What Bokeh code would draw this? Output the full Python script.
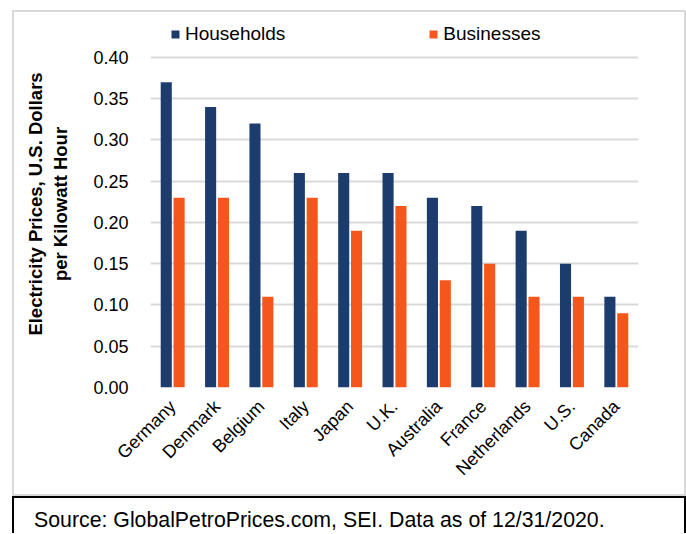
from bokeh.plotting import figure
from bokeh.models import Legend, LegendItem, Div, FixedTicker, NumeralTickFormatter
from bokeh.layouts import column
from bokeh.transform import dodge
from bokeh.embed import file_html
from bokeh.resources import INLINE
from math import pi

countries = ["Germany", "Denmark", "Belgium", "Italy", "Japan", "U.K.",
             "Australia", "France", "Netherlands", "U.S.", "Canada"]
households = [0.37, 0.34, 0.32, 0.26, 0.26, 0.26, 0.23, 0.22, 0.19, 0.15, 0.11]
businesses = [0.23, 0.23, 0.11, 0.23, 0.19, 0.22, 0.13, 0.15, 0.11, 0.11, 0.09]
y_ticks = [0.0, 0.05, 0.10, 0.15, 0.20, 0.25, 0.30, 0.35, 0.40]

NAVY = "#1B3C6D"
ORANGE = "#F4561C"
GRID = "#D9D9D9"
FONT = "Liberation Sans"

data = dict(country=countries, households=households, businesses=businesses)

# the frame reaches above the 0.40 line to hold the legend
p = figure(x_range=countries, y_range=(0, 0.4448), width=670, height=482,
           output_backend="svg", toolbar_location=None,
           min_border_left=136, min_border_right=46,
           min_border_top=8, min_border_bottom=107)

r1 = p.vbar(x=dodge("country", -0.145, range=p.x_range), top="households",
            width=0.25, source=data, fill_color=NAVY, line_color=None)
r2 = p.vbar(x=dodge("country", 0.145, range=p.x_range), top="businesses",
            width=0.25, source=data, fill_color=ORANGE, line_color=None)

p.outline_line_color = None
p.xgrid.grid_line_color = None
p.ygrid.grid_line_color = GRID
p.ygrid.grid_line_width = 2
p.ygrid.ticker = FixedTicker(ticks=y_ticks)

p.yaxis.ticker = FixedTicker(ticks=y_ticks)
p.yaxis.formatter = NumeralTickFormatter(format="0.00")
p.yaxis.axis_line_color = None
p.yaxis.major_tick_line_color = None
p.yaxis.minor_tick_line_color = None
p.yaxis.major_label_text_font = FONT
p.yaxis.major_label_text_font_size = "18px"
p.yaxis.major_label_text_color = "#000000"
p.yaxis.major_label_standoff = 16
p.yaxis.axis_label = "Electricity Prices, U.S. Dollars\nper Kilowatt Hour"
p.yaxis.axis_label_text_font = FONT
p.yaxis.axis_label_text_font_size = "18.5px"
p.yaxis.axis_label_text_font_style = "bold"
p.yaxis.axis_label_text_color = "#000000"
p.yaxis.axis_label_standoff = 19

p.xaxis.axis_line_color = None
p.xaxis.major_tick_line_color = None
p.xaxis.minor_tick_line_color = None
p.xaxis.major_label_orientation = pi / 4
p.xaxis.major_label_text_font = FONT
p.xaxis.major_label_text_font_size = "18px"
p.xaxis.major_label_text_color = "#000000"
p.xaxis.major_label_standoff = 10

legend = Legend(items=[LegendItem(label="Households", renderers=[r1]),
                       LegendItem(label="Businesses", renderers=[r2])],
                orientation="horizontal", location=(20, 342),
                spacing=143, padding=0, margin=0,
                glyph_width=10, glyph_height=10, label_standoff=5,
                label_text_font=FONT, label_text_font_size="19px",
                label_text_color="#000000",
                border_line_color=None, background_fill_alpha=0)
p.add_layout(legend, "center")

boxed = column(p, styles={"border": "2px solid #D9D9D9"}, margin=(10, 0, 0, 12))

src = Div(text="Source: GlobalPetroPrices.com, SEI. Data as of 12/31/2020.",
          width=674, height=37, margin=(0, 0, 0, 12),
          styles={"border": "2px solid #000000", "border-bottom": "none",
                  "box-sizing": "border-box", "font-family": FONT,
                  "font-size": "21.3px", "color": "#000000",
                  "padding-left": "20px", "padding-top": "12px",
                  "line-height": "20px", "overflow": "hidden",
                  "white-space": "nowrap"})

layout = column(boxed, src, spacing=0)

open("out.html", "w").write(file_html(layout, INLINE))
